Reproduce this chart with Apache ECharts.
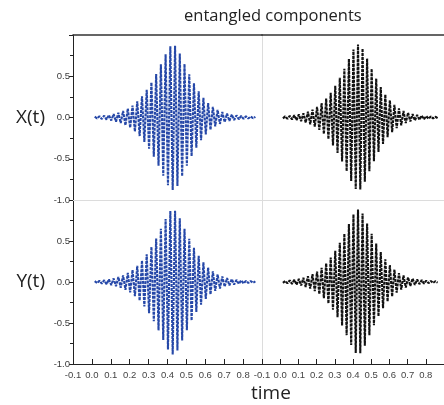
<!DOCTYPE html>
<html>
<head>
<meta charset="utf-8">
<script src="https://cdn.jsdelivr.net/npm/echarts@6/dist/echarts.min.js"></script>
<style>
  html, body { margin: 0; padding: 0; background: #fff; }
  #chart { width: 444px; height: 405px; }
</style>
</head>
<body>
<div id="chart"></div>
<script>
// Sample times shared by all four traces
const times = [
  0.015,0.0275,0.04,0.0525,0.065,0.0775,0.09,0.1025,0.115,0.1275,
  0.14,0.1525,0.165,0.1775,0.19,0.2025,0.215,0.2275,0.24,0.2525,
  0.265,0.2775,0.29,0.3025,0.315,0.3275,0.34,0.3525,0.365,0.3775,
  0.39,0.4025,0.415,0.4275,0.44,0.4525,0.465,0.4775,0.49,0.5025,
  0.515,0.5275,0.54,0.5525,0.565,0.5775,0.59,0.6025,0.615,0.6275,
  0.64,0.6525,0.665,0.6775,0.69,0.7025,0.715,0.7275,0.74,0.7525,
  0.765,0.7775,0.79,0.8025,0.815,0.8275,0.84,0.8525,0.865
];

// X(t), first component
const xFirst = [
  0.010,-0.012,0.015,-0.018,0.022,-0.026,0.030,-0.036,0.042,-0.050,
  0.058,-0.068,0.080,-0.094,0.108,-0.124,0.145,-0.170,0.196,-0.225,
  0.258,-0.295,0.335,-0.378,0.425,-0.475,0.528,-0.585,0.645,-0.705,
  0.765,-0.820,0.862,-0.880,0.868,-0.830,0.775,-0.712,0.648,-0.585,
  0.525,-0.468,0.415,-0.365,0.318,-0.276,0.238,-0.205,0.176,-0.150,
  0.128,-0.108,0.092,-0.078,0.066,-0.056,0.048,-0.041,0.035,-0.030,
  0.026,-0.022,0.019,-0.016,0.014,-0.012,0.010,-0.009,0.008
];

// X(t), second component
const xSecond = [
  -0.010,0.013,-0.016,0.019,-0.023,0.027,-0.032,0.037,-0.044,0.051,
  -0.060,0.070,-0.082,0.096,-0.111,0.128,-0.150,0.174,-0.200,0.230,
  -0.262,0.300,-0.340,0.384,-0.430,0.480,-0.534,0.590,-0.650,0.710,
  -0.770,0.825,-0.866,0.885,-0.872,0.835,-0.780,0.716,-0.652,0.590,
  -0.530,0.472,-0.418,0.368,-0.320,0.278,-0.240,0.207,-0.178,0.152,
  -0.130,0.110,-0.094,0.080,-0.068,0.058,-0.049,0.042,-0.036,0.031,
  -0.027,0.023,-0.020,0.017,-0.015,0.013,-0.011,0.009,-0.008
];

// Y(t), first component
const yFirst = [
  0.011,-0.013,0.016,-0.019,0.022,-0.027,0.031,-0.037,0.043,-0.051,
  0.060,-0.070,0.081,-0.095,0.110,-0.126,0.147,-0.172,0.198,-0.228,
  0.261,-0.298,0.338,-0.381,0.428,-0.478,0.531,-0.588,0.648,-0.708,
  0.768,-0.824,0.866,-0.885,0.870,-0.834,0.778,-0.714,0.650,-0.588,
  0.527,-0.470,0.417,-0.366,0.320,-0.277,0.239,-0.206,0.177,-0.151,
  0.129,-0.109,0.093,-0.079,0.067,-0.057,0.049,-0.042,0.036,-0.031,
  0.026,-0.023,0.019,-0.017,0.014,-0.012,0.011,-0.009,0.008
];

// Y(t), second component
const ySecond = [
  -0.011,0.013,-0.016,0.019,-0.023,0.027,-0.031,0.037,-0.043,0.051,
  -0.060,0.070,-0.081,0.095,-0.110,0.126,-0.147,0.172,-0.198,0.228,
  -0.261,0.298,-0.338,0.381,-0.428,0.478,-0.531,0.588,-0.648,0.708,
  -0.768,0.824,-0.866,0.885,-0.870,0.834,-0.778,0.714,-0.650,0.588,
  -0.527,0.470,-0.417,0.366,-0.320,0.277,-0.239,0.206,-0.177,0.151,
  -0.129,0.109,-0.093,0.079,-0.067,0.057,-0.049,0.042,-0.036,0.031,
  -0.026,0.023,-0.019,0.017,-0.014,0.012,-0.011,0.009,-0.008
];

const xTicks = { min: -0.1, max: 0.9, interval: 0.1 };
const yTicks = { min: -1, max: 1, interval: 0.5 };

const BLUE = '#2648a8';
const BLACK = '#121212';
const LABEL_FONT = 'Liberation Sans';

const pairs = (vals) => vals.map((v, i) => [times[i], v]);

function yAxisFor(gridIndex, labelled, name) {
  return {
    type: 'value', gridIndex, min: yTicks.min, max: yTicks.max, interval: yTicks.interval,
    name: name || '', nameLocation: 'middle', nameRotate: 0, nameGap: 28,
    nameTextStyle: { fontFamily: 'Open Sans', fontSize: 19, color: '#222', padding: [8, 0, 0, 0] },
    axisLine: { show: true, onZero: false, lineStyle: { color: labelled ? '#222' : '#dcdcdc', width: 1 } },
    axisTick: { show: labelled, length: 4, lineStyle: { color: '#222' } },
    minorTick: { show: labelled, splitNumber: 2, length: 3, lineStyle: { color: '#222' } },
    axisLabel: {
      show: labelled, showMaxLabel: false, fontFamily: LABEL_FONT, fontSize: 9.5, color: '#3a3a3a', margin: 3,
      formatter: v => v.toFixed(1)
    },
    splitLine: { show: false }
  };
}

function bottomXAxis(gridIndex, labelled) {
  return {
    type: 'value', gridIndex, min: xTicks.min, max: xTicks.max, interval: xTicks.interval,
    axisLine: { show: true, onZero: false, lineStyle: { color: labelled ? '#222' : '#dcdcdc', width: 1 } },
    axisTick: { show: labelled, inside: true, length: 5, lineStyle: { color: '#222' } },
    axisLabel: {
      show: labelled, showMaxLabel: false, showMinLabel: true, fontFamily: LABEL_FONT, fontSize: 9.5, color: '#444', margin: 6,
      formatter: v => v.toFixed(1)
    },
    splitLine: { show: false }
  };
}

function topXAxis(gridIndex) {
  return {
    type: 'value', gridIndex, position: 'top', min: xTicks.min, max: xTicks.max,
    axisLine: { show: true, onZero: false, lineStyle: { color: '#333', width: 1.6 } },
    axisTick: { show: false }, axisLabel: { show: false }, splitLine: { show: false }
  };
}

function trace(vals, xi, yi, color) {
  return {
    type: 'line', xAxisIndex: xi, yAxisIndex: yi, data: pairs(vals),
    showSymbol: false, symbol: 'none', silent: true,
    lineStyle: { color, width: 2.1, type: [3, 1] }
  };
}

const option = {
  animation: false,
  backgroundColor: '#fff',
  title: [
    { text: 'entangled components', left: 179, top: 3,
      textStyle: { fontFamily: 'Open Sans', fontSize: 16.5, fontWeight: 'normal', color: '#222' } },
    { text: 'time', left: 246, top: 379,
      textStyle: { fontFamily: 'Open Sans', fontSize: 19, fontWeight: 'normal', color: '#222' } }
  ],
  grid: [
    { left: 73, top: 35, width: 189, height: 165 },
    { left: 262, top: 35, width: 182, height: 165 },
    { left: 73, top: 200, width: 189, height: 164 },
    { left: 262, top: 200, width: 182, height: 164 }
  ],
  xAxis: [
    bottomXAxis(0, false), bottomXAxis(1, false),
    bottomXAxis(2, true), bottomXAxis(3, true),
    topXAxis(0), topXAxis(1)
  ],
  yAxis: [
    yAxisFor(0, true, 'X(t)'), yAxisFor(1, false),
    yAxisFor(2, true, 'Y(t)'), yAxisFor(3, false)
  ],
  series: [
    trace(xFirst, 0, 0, BLUE),
    trace(xSecond, 1, 1, BLACK),
    trace(yFirst, 2, 2, BLUE),
    trace(ySecond, 3, 3, BLACK)
  ]
};

echarts.init(document.getElementById('chart'), null, { renderer: 'canvas' }).setOption(option);
</script>
</body>
</html>
